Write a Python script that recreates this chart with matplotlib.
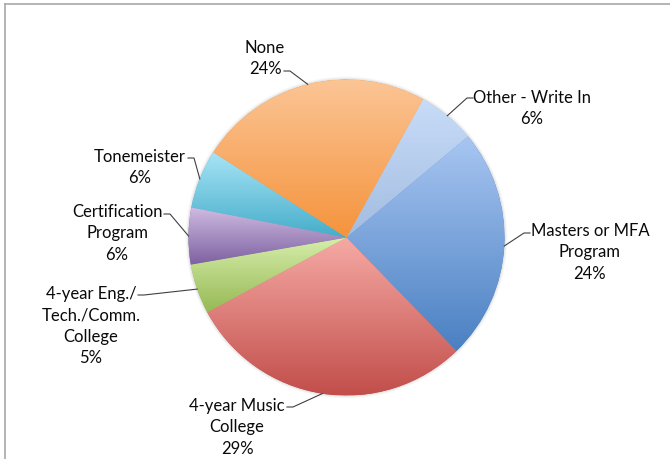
import numpy as np
import matplotlib
matplotlib.use("Agg")
import matplotlib.pyplot as plt
from matplotlib.colors import LinearSegmentedColormap

# Data (percent of respondents), clockwise from "Other - Write In"
labels = ["Other - Write In", "Masters or MFA\nProgram", "4-year Music\nCollege",
          "4-year Eng./\nTech./Comm.\nCollege", "Certification\nProgram",
          "Tonemeister", "None"]
values = [5.9, 23.8, 29.4, 5.1, 5.8, 6.0, 24.0]
pct_text = ["6%", "24%", "29%", "5%", "6%", "6%", "24%"]

# gradient colours: top -> bottom of each slice
top_colors = ["#c8dcf8", "#a8c6f2", "#f6aaa5", "#d6eeab", "#cfbce2", "#a8e4f6", "#fbc595"]
bot_colors = ["#a2bce0", "#4a80c2", "#c24e4a", "#97b955", "#7d60a0", "#44adc9", "#f5933c"]

# label layout in pixels: text centre x, first line y, leader start (x, y)
label_pos = [(532, 98), (590, 231), (237, 406), (91, 294), (117, 212), (140, 157), (265, 48)]
leader_start = [(473, 99), (530, 234), (287, 408), (138, 296), (164, 215), (188, 159), (284, 72)]

W, H = 670, 460
fig = plt.figure(figsize=(W / 100, H / 100), dpi=100)
ax = fig.add_axes([0, 0, 1, 1])

cx, cy, r = 346.5, 238.5, 158

# soft shadow ring
for k, a in [(3, 0.05), (2, 0.08), (1, 0.12)]:
    ax.add_patch(plt.Circle((cx, cy), r + k, color="#909090", alpha=a, lw=0, zorder=1))

wedges, _ = ax.pie(values, startangle=-61, counterclock=True, radius=r,
                   center=(cx, cy), frame=True,
                   wedgeprops=dict(linewidth=0))

grad = np.linspace(0, 1, 256).reshape(-1, 1)
for i, w in enumerate(wedges):
    w.set_zorder(2)
    th = np.radians(np.linspace(w.theta1, w.theta2, 200))
    xs = np.concatenate([[cx], cx + r * np.cos(th)])
    ys = np.concatenate([[cy], cy + r * np.sin(th)])
    y0, y1 = ys.min(), ys.max()
    cmap = LinearSegmentedColormap.from_list("g%d" % i, [top_colors[i], bot_colors[i]])
    w.set_facecolor(bot_colors[i])
    im = ax.imshow(grad, cmap=cmap, aspect="auto",
                   extent=[xs.min() - 1, xs.max() + 1, y1, y0], zorder=3,
                   interpolation="bilinear")
    im.set_clip_path(w)

    # leader line to mid-angle point on the rim
    mid = np.radians((w.theta1 + w.theta2) / 2)
    ex, ey = cx + r * np.cos(mid), cy + r * np.sin(mid)
    sx, sy = leader_start[i]
    step = 6 if ex > sx else -6
    ax.plot([sx, sx + step, ex], [sy, sy, ey], color="#404040", lw=0.8, zorder=4)

    tx, ty = label_pos[i]
    ax.text(tx, ty - 8, labels[i] + "\n" + pct_text[i], ha="center", va="top",
            fontsize=12, family="Lato", color="#0a0a0a", linespacing=1.42, zorder=5)

ax.set_xlim(0, W)
ax.set_ylim(H, 0)
ax.set_aspect("equal")
ax.axis("off")

# chart frame (top and left edges visible)
ax.plot([5, W], [5, 5], color="#a8a8a8", lw=1.2, zorder=6, clip_on=False)
ax.plot([5, 5], [5, H], color="#a8a8a8", lw=1.2, zorder=6, clip_on=False)

fig.savefig("out.png", dpi=100)
